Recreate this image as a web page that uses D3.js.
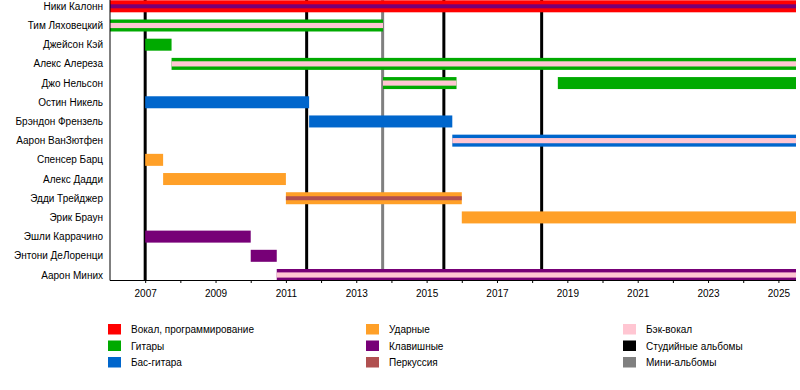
<!DOCTYPE html>
<html><head><meta charset="utf-8">
<script src="https://cdn.jsdelivr.net/npm/d3@7/dist/d3.min.js"></script>
<style>
body{margin:0;background:#fff;}
svg{display:block;font-family:"Liberation Sans",Arial,sans-serif;}
</style></head>
<body><svg id="c" width="800" height="390"></svg>
<script>
const members = ["Ники Калонн","Тим Ляховецкий","Джейсон Кэй","Алекс Алереза","Джо Нельсон","Остин Никель","Брэндон Френзель","Аарон ВанЗютфен","Спенсер Барц","Алекс Дадди","Эдди Трейджер","Эрик Браун","Эшли Каррачино","Энтони ДеЛоренци","Аарон Миних"];
// [member, start, end, role, secondary role]
const periods = [
  ["Ники Калонн",2006.0,2025.5,"vocals","keys"],
  ["Тим Ляховецкий",2006.0,2013.76,"guitar","backing"],
  ["Джейсон Кэй",2007.0,2007.75,"guitar",null],
  ["Алекс Алереза",2007.75,2025.5,"guitar","backing"],
  ["Джо Нельсон",2013.76,2015.85,"guitar","backing"],
  ["Джо Нельсон",2018.73,2025.5,"guitar",null],
  ["Остин Никель",2007.0,2011.66,"bass",null],
  ["Брэндон Френзель",2011.66,2015.73,"bass",null],
  ["Аарон ВанЗютфен",2015.73,2025.5,"bass","backing"],
  ["Спенсер Барц",2007.0,2007.51,"drums",null],
  ["Алекс Дадди",2007.51,2011.0,"drums",null],
  ["Эдди Трейджер",2011.0,2016.0,"drums","perc"],
  ["Эрик Браун",2016.0,2025.5,"drums",null],
  ["Эшли Каррачино",2007.0,2010.0,"keys",null],
  ["Энтони ДеЛоренци",2010.0,2010.74,"keys",null],
  ["Аарон Миних",2010.74,2025.5,"keys","backing"]
];
const studioAlbums = [2007.0, 2011.59, 2015.49, 2018.27];
const miniAlbums = [2013.75];
const yearDomain = [2006.0, 2025.5];
const tickYears = d3.range(2007, 2026);
const legendItems = [
  ["vocals","Вокал, программирование"],["guitar","Гитары"],["bass","Бас-гитара"],
  ["drums","Ударные"],["keys","Клавишные"],["perc","Перкуссия"],
  ["backing","Бэк-вокал"],["studio","Студийные альбомы"],["ep","Мини-альбомы"]
];
const colors = {vocals:"#ff0000",guitar:"#00aa00",bass:"#0066cc",drums:"#ffa028",keys:"#770077",perc:"#b05050",backing:"#ffc6d2",studio:"#000000",ep:"#808080"};

const svg = d3.select("#c");
const x = d3.scaleLinear().domain(yearDomain).range([110, 796]);
const y = d3.scalePoint().domain(members).range([6.3, 275]);
const barH = 12;

// lines
svg.append("g").selectAll("line").data(studioAlbums).join("line")
  .attr("x1", d=>x(d)).attr("x2", d=>x(d)).attr("y1", 0).attr("y2", 280)
  .attr("stroke", colors.studio).attr("stroke-width", 3);
svg.append("g").selectAll("line").data(miniAlbums).join("line")
  .attr("x1", d=>x(d)).attr("x2", d=>x(d)).attr("y1", 0).attr("y2", 280)
  .attr("stroke", colors.ep).attr("stroke-width", 3);

// bars
const bars = svg.append("g");
bars.selectAll("rect.main").data(periods).join("rect").attr("class","main")
  .attr("x", d=>x(d[1])).attr("width", d=>x(d[2])-x(d[1]))
  .attr("y", d=>y(d[0])-barH/2).attr("height", barH)
  .attr("fill", d=>colors[d[3]]);
bars.selectAll("rect.sub").data(periods.filter(d=>d[4])).join("rect").attr("class","sub")
  .attr("x", d=>x(d[1])).attr("width", d=>x(d[2])-x(d[1]))
  .attr("y", d=>y(d[0])-(d[4]==="backing"?2.6:2)).attr("height", d=>d[4]==="backing"?5.2:4)
  .attr("fill", d=>colors[d[4]]);

// member labels
svg.append("g").selectAll("text").data(members).join("text")
  .attr("x", 103).attr("y", d=>y(d)+3.6).attr("text-anchor","end")
  .attr("font-size", 10).attr("fill","#000").text(d=>d);

// axes
svg.append("line").attr("x1",110).attr("x2",110).attr("y1",0).attr("y2",280.5).attr("stroke","#000").attr("stroke-width",1);
const xAxis = d3.axisBottom(x).tickValues(tickYears).tickSize(3)
  .tickFormat(d=> d%2===1 ? String(d) : "");
const ax = svg.append("g").attr("transform","translate(0,280)").call(xAxis);
ax.select(".domain").attr("d", `M110,0.5H796`);
ax.selectAll("text").attr("font-size",10).attr("font-family","Liberation Sans, Arial, sans-serif").attr("dy","1.05em");

// legend
const lg = svg.append("g").selectAll("g").data(legendItems).join("g")
  .attr("transform",(d,i)=>`translate(${[108,366,623][Math.floor(i/3)]},${324+16.5*(i%3)})`);
lg.append("rect").attr("width",13).attr("height",10.5).attr("fill",d=>colors[d[0]]);
lg.append("text").attr("x",23).attr("y",9).attr("font-size",10).text(d=>d[1]);
</script></body></html>
